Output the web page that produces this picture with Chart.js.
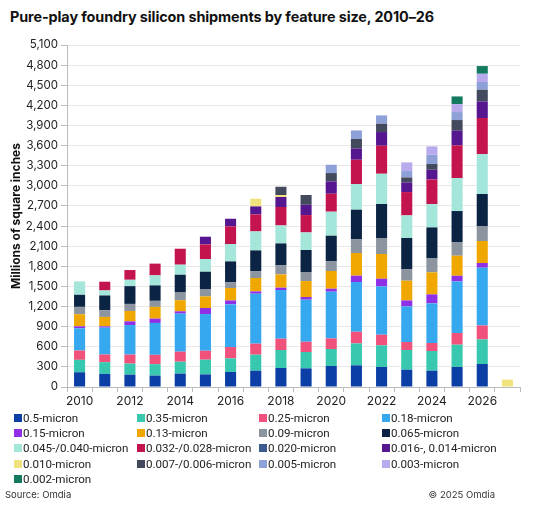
<!DOCTYPE html>
<html>
<head>
<meta charset="utf-8">
<script src="https://cdn.jsdelivr.net/npm/chart.js@4/dist/chart.umd.min.js"></script>
<style>
  body { margin: 0; background: #fff; font-family: Inter, "Open Sans", sans-serif; }
  #wrap { position: relative; width: 556px; height: 508px; overflow: hidden; }
  #title { position: absolute; left: 10px; top: 8px; font-size: 14.4px; font-weight: 700; color: #111; letter-spacing: -0.1px; }
  #box { position: absolute; left: 0; top: 35px; width: 525px; height: 376px; }
  #legend { position: absolute; left: 14px; top: 410px; display: grid; grid-template-columns: 123px 122px 123px 160px; grid-auto-rows: 15.3px; font-family: Roboto, sans-serif; font-size: 11.6px; color: #222; }
  .item { display: flex; align-items: center; white-space: nowrap; }
  .sw { flex: 0 0 8px; width: 8px; height: 8px; margin-right: 1px; }
  #src { position: absolute; left: 5px; top: 489px; font-size: 9.5px; color: #333; }
  #copy { position: absolute; right: 61px; top: 489px; font-size: 9.5px; color: #333; }
</style>
</head>
<body>
<div id="wrap">
  <div id="title">Pure-play foundry silicon shipments by feature size, 2010–26</div>
  <div id="box"><canvas id="barChart"></canvas></div>
  <div id="legend"></div>
  <div id="src">Source: Omdia</div>
  <div id="copy">© 2025 Omdia</div>
</div>
<script>
// categories (last slot is the unlabelled one after 2026)
var years = ['2010','2011','2012','2013','2014','2015','2016','2017','2018','2019','2020','2021','2022','2023','2024','2025','2026',''];

var names = ['0.5-micron','0.35-micron','0.25-micron','0.18-micron','0.15-micron','0.13-micron','0.09-micron','0.065-micron',
  '0.045-/0.040-micron','0.032-/0.028-micron','0.020-micron','0.016-, 0.014-micron','0.010-micron','0.007-/0.006-micron',
  '0.005-micron','0.003-micron','0.002-micron'];

var colors = ['#0b3fa6','#38c8b0','#f0527c','#36a8ef','#9030e6','#f0a800','#8c949f','#0c2444',
  '#a5e6da','#c4144e','#3b5b8c','#56168f','#f0e27c','#434a5e','#8ea0d8','#b9aaee','#137a60'];

// millions of square inches
var s05   = [220,195,184,170,200,188,224,243,283,278,313,323,298,258,243,298,343,0];
var s035  = [185,175,165,170,177,219,203,239,269,244,254,327,323,294,294,333,367,0];
var s025  = [140,115,135,140,150,134,169,164,168,153,158,174,159,119,119,174,208,0];
var s018  = [330,400,440,475,567,547,636,745,726,627,696,742,720,531,591,770,861,0];
var s015  = [30,20,55,65,35,90,59,35,35,40,45,94,115,89,134,84,70,0];
var s013  = [180,140,155,175,165,173,185,199,198,238,264,338,368,294,328,299,328,0];
var s009  = [110,100,105,90,115,110,84,104,134,135,143,203,239,174,208,204,218,0];
var s0065 = [180,220,265,230,265,258,313,308,328,328,383,443,507,463,463,462,483,0];
var s0045 = [200,75,95,150,150,189,259,283,268,262,358,383,451,337,348,492,596,0];
var s0032 = [0,130,145,175,238,218,263,253,275,259,268,362,418,348,367,486,537,0];
var s0020 = [0,0,0,0,0,0,0,0,0,0,0,0,0,0,0,0,0,0];
var s0016 = [0,0,0,0,0,115,114,120,149,154,184,169,204,144,145,219,248,0];
var s0010 = [0,0,0,0,0,0,0,115,30,0,0,0,0,0,0,0,0,110];
var s0007 = [0,0,0,0,0,0,0,0,123,145,124,140,124,74,85,160,174,0];
var s0005 = [0,0,0,0,0,0,0,0,0,0,124,128,124,95,139,119,115,0];
var s0003 = [0,0,0,0,0,0,0,0,0,0,0,0,0,129,124,119,123,0];
var s0002 = [0,0,0,0,0,0,0,0,0,0,0,0,0,0,0,114,115,0];

var series = [s05,s035,s025,s018,s015,s013,s009,s0065,s0045,s0032,s0020,s0016,s0010,s0007,s0005,s0003,s0002];

var datasets = series.map(function (d, i) {
  return {
    label: names[i],
    data: d,
    backgroundColor: colors[i],
    borderWidth: 0,
    barPercentage: 0.44,
    categoryPercentage: 1
  };
});

// html legend, 4 columns
var lg = document.getElementById('legend');
names.forEach(function (n, i) {
  var it = document.createElement('div');
  it.className = 'item';
  it.innerHTML = '<span class="sw" style="background:' + colors[i] + '"></span>' + n;
  lg.appendChild(it);
});

Chart.defaults.font.family = 'Inter, "Open Sans", sans-serif';

var barCtx = document.getElementById('barChart').getContext('2d');
new Chart(barCtx, {
  type: 'bar',
  data: { labels: years, datasets: datasets },
  options: {
    responsive: true,
    maintainAspectRatio: false,
    animation: false,
    layout: { padding: { top: 10, right: 5, bottom: 0, left: 0 } },
    plugins: { legend: { display: false }, tooltip: { enabled: false } },
    scales: {
      x: {
        stacked: true,
        grid: { drawOnChartArea: false, drawTicks: true, tickLength: 5, color: '#bbb', offset: true },
        border: { color: '#bbb' },
        ticks: {
          autoSkip: false,
          maxRotation: 0,
          padding: 2,
          color: '#222',
          font: { size: 12 },
          callback: function (v, i) { return i % 2 === 0 ? years[i] : ''; }
        },
        afterFit: function (s) { s.height = 24; }
      },
      y: {
        stacked: true,
        min: 0,
        max: 5100,
        grid: { color: '#e8e8e8', tickLength: 6, tickColor: '#bbb' },
        border: { color: '#bbb' },
        ticks: { stepSize: 300, color: '#222', font: { size: 11.5 }, padding: 3 },
        title: { display: true, text: 'Millions of square inches', color: '#111', font: { size: 12, weight: 'bold' }, padding: { top: 9, bottom: 0 } },
        afterFit: function (s) { s.width = 67; }
      }
    }
  }
});
</script>
</body>
</html>
